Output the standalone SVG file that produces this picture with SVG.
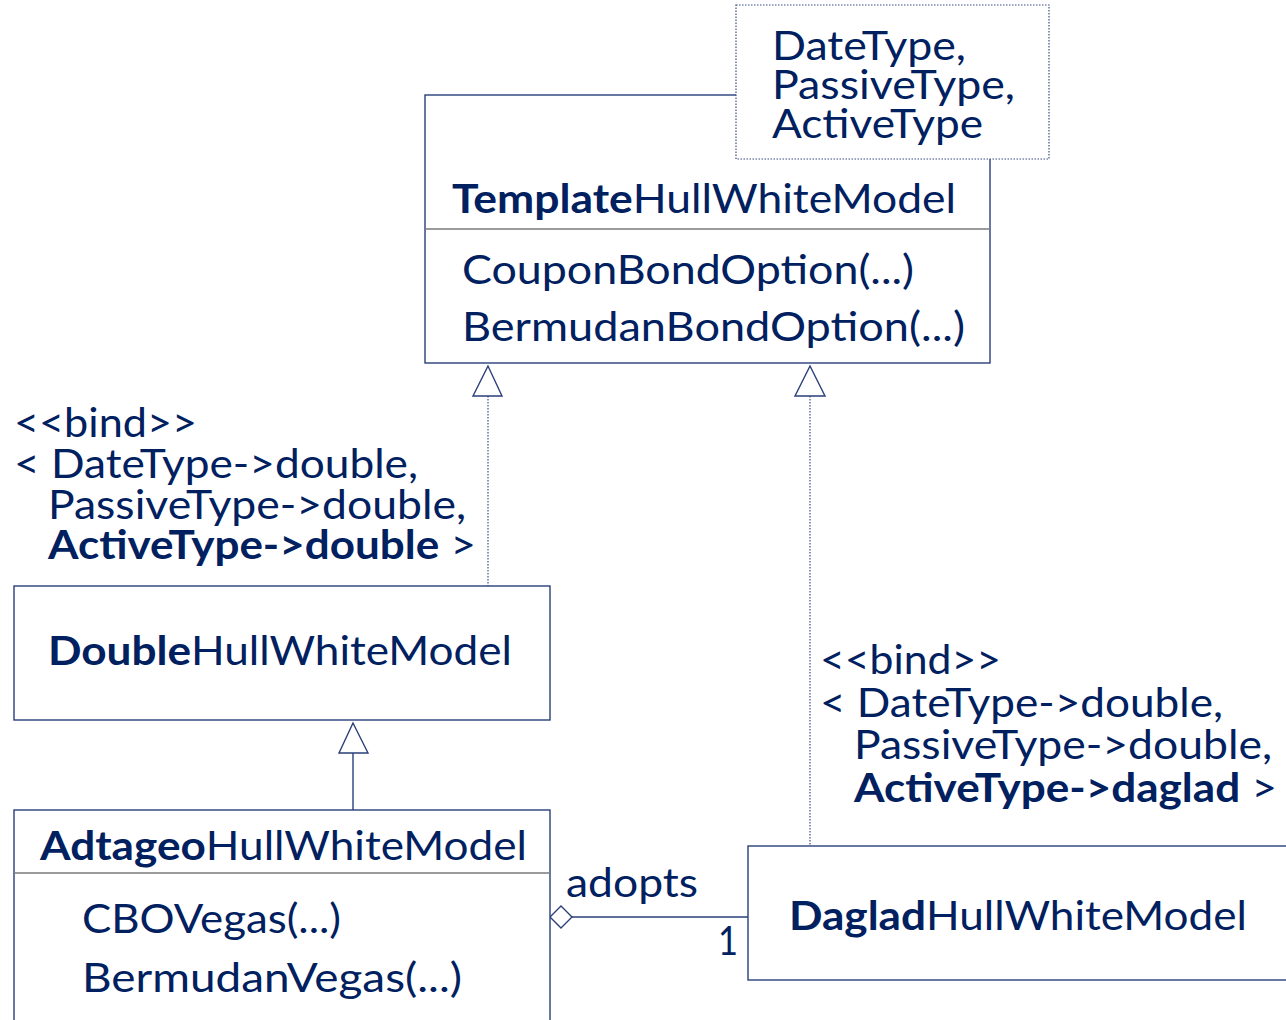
<svg xmlns="http://www.w3.org/2000/svg" width="1286" height="1020" viewBox="0 0 1286 1020">
<style>
text{font-family:Lato,"Open Sans","Liberation Sans",sans-serif;font-size:40px;fill:#002060}
.b{font-weight:bold}
.box{fill:#fff;stroke:#2a3f7a;stroke-width:1.4}
.div{stroke:#7a7a7a;stroke-width:1.6}
.dot{fill:none;stroke:#3a4c86;stroke-width:1.2;stroke-dasharray:1.5 1.5}
.solid{fill:none;stroke:#2a3f7a;stroke-width:1.4}
.tri{fill:#fff;stroke:#2a3f7a;stroke-width:1.4}
</style>
<rect width="1286" height="1020" fill="#fff"/>
<g id="connectors">
<line class="dot" x1="488" y1="396" x2="488" y2="586"/>
<polygon class="tri" points="488,366 473,396 502,396"/>
<line class="dot" x1="810" y1="396" x2="810" y2="846"/>
<polygon class="tri" points="810,366 795,396 825,396"/>
<line class="solid" x1="353" y1="753" x2="353" y2="810"/>
<polygon class="tri" points="353,723 339,753 368,753"/>
<line class="solid" x1="572" y1="917" x2="748" y2="917"/>
<polygon class="tri" points="550,917 561,906 572,917 561,928"/>
<text x="566" y="897" textLength="132" lengthAdjust="spacingAndGlyphs">adopts</text>
<text x="718" y="955" textLength="20" lengthAdjust="spacingAndGlyphs">1</text>
<text x="14" y="437" textLength="183" lengthAdjust="spacingAndGlyphs">&lt;&lt;bind&gt;&gt;</text>
<text x="14" y="478" textLength="404" lengthAdjust="spacingAndGlyphs">&lt; DateType-&gt;double,</text>
<text x="48" y="519" textLength="418" lengthAdjust="spacingAndGlyphs">PassiveType-&gt;double,</text>
<text x="48" y="559" textLength="428" lengthAdjust="spacingAndGlyphs"><tspan class="b">ActiveType-&gt;double</tspan> &gt;</text>
<text x="820" y="674" textLength="181" lengthAdjust="spacingAndGlyphs">&lt;&lt;bind&gt;&gt;</text>
<text x="820" y="717" textLength="403" lengthAdjust="spacingAndGlyphs">&lt; DateType-&gt;double,</text>
<text x="854" y="759" textLength="418" lengthAdjust="spacingAndGlyphs">PassiveType-&gt;double,</text>
<text x="854" y="802" textLength="423" lengthAdjust="spacingAndGlyphs"><tspan class="b">ActiveType-&gt;daglad</tspan> &gt;</text>
</g>
<g id="template">
<rect class="box" x="425" y="95" width="565" height="268"/>
<line class="div" x1="425" y1="229" x2="990" y2="229"/>
<text x="452" y="213" textLength="504" lengthAdjust="spacingAndGlyphs"><tspan class="b">Template</tspan>HullWhiteModel</text>
<text x="462" y="284" textLength="452" lengthAdjust="spacingAndGlyphs">CouponBondOption(...)</text>
<text x="462" y="341" textLength="503" lengthAdjust="spacingAndGlyphs">BermudanBondOption(...)</text>
</g>
<g id="params">
<rect x="736" y="5" width="313" height="154" fill="#fff" stroke="#3a4c86" stroke-width="1.2" stroke-dasharray="1.5 1.5"/>
<text x="772" y="60" textLength="194" lengthAdjust="spacingAndGlyphs">DateType,</text>
<text x="772" y="99" textLength="243" lengthAdjust="spacingAndGlyphs">PassiveType,</text>
<text x="772" y="138" textLength="211" lengthAdjust="spacingAndGlyphs">ActiveType</text>
</g>
<g id="double">
<rect class="box" x="14" y="586" width="536" height="134"/>
<text x="48" y="665" textLength="464" lengthAdjust="spacingAndGlyphs"><tspan class="b">Double</tspan>HullWhiteModel</text>
</g>
<g id="adtageo">
<rect class="box" x="14" y="810" width="536" height="230"/>
<line class="div" x1="14" y1="873" x2="550" y2="873"/>
<text x="40" y="860" textLength="487" lengthAdjust="spacingAndGlyphs"><tspan class="b">Adtageo</tspan>HullWhiteModel</text>
<text x="82" y="933" textLength="259" lengthAdjust="spacingAndGlyphs">CBOVegas(...)</text>
<text x="82" y="992" textLength="380" lengthAdjust="spacingAndGlyphs">BermudanVegas(...)</text>
</g>
<g id="daglad">
<rect class="box" x="748" y="846" width="560" height="134"/>
<text x="789" y="930" textLength="458" lengthAdjust="spacingAndGlyphs"><tspan class="b">Daglad</tspan>HullWhiteModel</text>
</g>
</svg>
